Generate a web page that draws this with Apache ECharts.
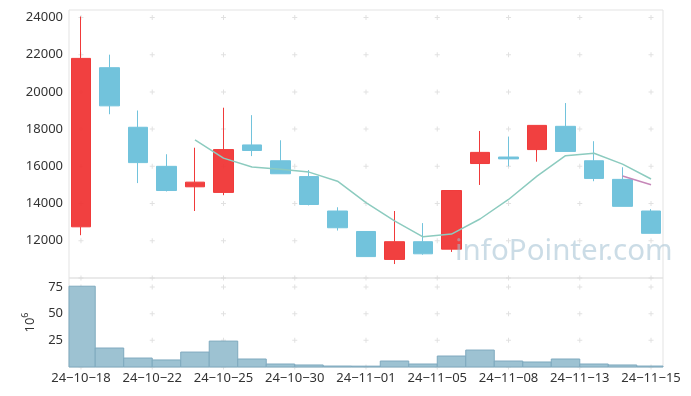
<!DOCTYPE html>
<html><head><meta charset="utf-8">
<script src="https://cdn.jsdelivr.net/npm/echarts@6/dist/echarts.min.js"></script>
<style>html,body{margin:0;padding:0;background:#fff}#c{width:691px;height:396px}</style>
</head><body><div id="c"></div>
<script>
const dates = ['24-10-18','24-10-21','24-10-22','24-10-23','24-10-24','24-10-25','24-10-28','24-10-29','24-10-30','24-10-31','24-11-01','24-11-04','24-11-05','24-11-06','24-11-07','24-11-08','24-11-11','24-11-12','24-11-13','24-11-14','24-11-15'];
const openP  = [12750,21300,18100,16000,14900,14600,17150,16300,15450,13600,12500,11000,11950,11550,16150,16500,16900,18150,16300,15300,13600];
const closeP = [21800,19250,16200,14700,15150,16900,16850,15600,13950,12700,11150,11950,11300,14700,16750,16400,18200,16800,15350,13850,12400];
const lowP   = [12300,18800,15100,14650,13600,14450,16550,15600,13900,12550,11150,10750,11250,11400,15000,16000,16250,16800,15200,13850,12400];
const highP  = [24050,22000,19000,16650,17000,19150,18750,17400,15800,13800,12500,13600,12950,14700,17900,17600,18200,19400,17350,15950,13700];
const volume = [75.8,17.8,8.4,6.6,14.0,24.3,7.5,2.8,1.9,0.9,0.8,5.6,2.8,10.3,15.9,5.6,4.7,7.5,2.8,1.9,0.9];
const ma5  = [null,null,null,null,17420,16440,15960,15840,15690,15200,14050,13070,12210,12360,13170,14220,15470,16570,16700,16120,15320];
const ma20 = [null,null,null,null,null,null,null,null,null,null,null,null,null,null,null,null,null,null,null,15480,15010];
const xTickPos = [0,2.5,5,7.5,10,12.5,15,17.5,20];
const xTickLabels = ['24-10-18','24-10-22','24-10-25','24-10-30','24-11-01','24-11-05','24-11-08','24-11-13','24-11-15'];
const priceTicks = [10000,12000,14000,16000,18000,20000,22000,24000];
const priceLabels = [12000,14000,16000,18000,20000,22000,24000];
const volTicks = [0,25,50,75];
const volLabels = [25,50,75];

const chart = echarts.init(document.getElementById('c'));
const FONT = 'Noto Sans';
const plus = 'path://M2,0h1v5h-1zM0,2h5v1h-5z';
const cross = (ys) => { const out=[]; xTickPos.forEach(x=>ys.forEach(y=>out.push([x,y]))); return out; };
const xr = {min:-0.42, max:20.42};

function volBar(params, api) {
  const x = api.value(0), v = api.value(1);
  const p0 = api.coord([x - 0.5, v]);
  const p1 = api.coord([x + 0.5, 0]);
  const cs = params.coordSys;
  const r = echarts.graphic.clipRectByRect(
    {x:p0[0], y:p0[1], width:p1[0]-p0[0], height:p1[1]-p0[1]},
    {x:cs.x, y:cs.y, width:cs.width, height:cs.height});
  return r && {type:'rect', shape:r, style:{fill:'#9dc2d2', stroke:'#7ea9be', lineWidth:1}};
}

chart.setOption({
  animation:false,
  backgroundColor:'#fff',
  grid:[
    {left:69, right:28, top:10, height:268, show:true, borderColor:'#e3e3e3', borderWidth:1},
    {left:69, right:28, top:278, height:89, show:true, borderColor:'#e3e3e3', borderWidth:1}
  ],
  xAxis:[
    {type:'value', gridIndex:0, min:xr.min, max:xr.max, axisLabel:{show:false}, axisTick:{show:false}, axisLine:{show:false}, splitLine:{show:false}},
    {type:'value', gridIndex:1, min:xr.min, max:xr.max, axisTick:{show:false}, axisLine:{show:false}, splitLine:{show:false},
     axisLabel:{customValues:xTickPos, formatter:v=>xTickLabels[xTickPos.indexOf(v)].replace(/-/g,'\u2212'), fontFamily:FONT, fontSize:13, color:'#333', margin:5, showMinLabel:true, showMaxLabel:true}}
  ],
  yAxis:[
    {type:'value', gridIndex:0, min:10000, max:24400, axisTick:{show:false}, axisLine:{show:false}, splitLine:{show:false},
     axisLabel:{customValues:priceLabels, formatter:v=>String(v), fontFamily:FONT, fontSize:13, color:'#333', margin:6}},
    {type:'value', gridIndex:1, min:0, max:83.5, axisTick:{show:false}, axisLine:{show:false}, splitLine:{show:false},
     axisLabel:{customValues:volLabels, formatter:v=>String(v), fontFamily:FONT, fontSize:13, color:'#333', margin:6},
     name:'{b|10}{s|6}', nameLocation:'middle', nameRotate:90, nameGap:30,
     nameTextStyle:{rich:{b:{fontFamily:FONT, fontSize:13, color:'#333'}, s:{fontFamily:FONT, fontSize:9, color:'#333', padding:[0,0,9,0]}}}}
  ],
  series:[
    {type:'scatter', xAxisIndex:0, yAxisIndex:0, data:cross(priceTicks), symbol:plus, symbolSize:5, itemStyle:{color:'#dadada'}, silent:true, z:1},
    {type:'scatter', xAxisIndex:1, yAxisIndex:1, data:cross(volTicks), symbol:plus, symbolSize:5, itemStyle:{color:'#dadada'}, silent:true, z:1},
    {type:'candlestick', xAxisIndex:0, yAxisIndex:0, barWidth:20,
     data:dates.map((d,i)=>[i, openP[i], closeP[i], lowP[i], highP[i]]),
     encode:{x:0, y:[1,2,3,4]},
     itemStyle:{color:'rgba(240,50,50,0.93)', color0:'#72c3dc', borderColor:'#f03a3a', borderColor0:'#72c3dc', borderWidth:1}},
    {type:'line', xAxisIndex:0, yAxisIndex:0, data:ma5.map((v,i)=>[i,v]), showSymbol:false, connectNulls:false,
     lineStyle:{color:'#8ccbbf', width:1.5}, itemStyle:{color:'#8ccbbf'}, z:3},
    {type:'line', xAxisIndex:0, yAxisIndex:0, data:ma20.map((v,i)=>[i,v]), showSymbol:false,
     lineStyle:{color:'#c687b8', width:1.5}, itemStyle:{color:'#c687b8'}, z:3},
    {type:'custom', xAxisIndex:1, yAxisIndex:1, renderItem:volBar, data:volume.map((v,i)=>[i,v]),
     encode:{x:0, y:1}, z:2}
  ],
  graphic:[
    {type:'text', left:455, top:237, z:100, silent:true,
     style:{text:'infoPointer.com', fontFamily:FONT, fontSize:29.5, fill:'rgba(160,192,210,0.55)'}}
  ]
});
</script></body></html>
